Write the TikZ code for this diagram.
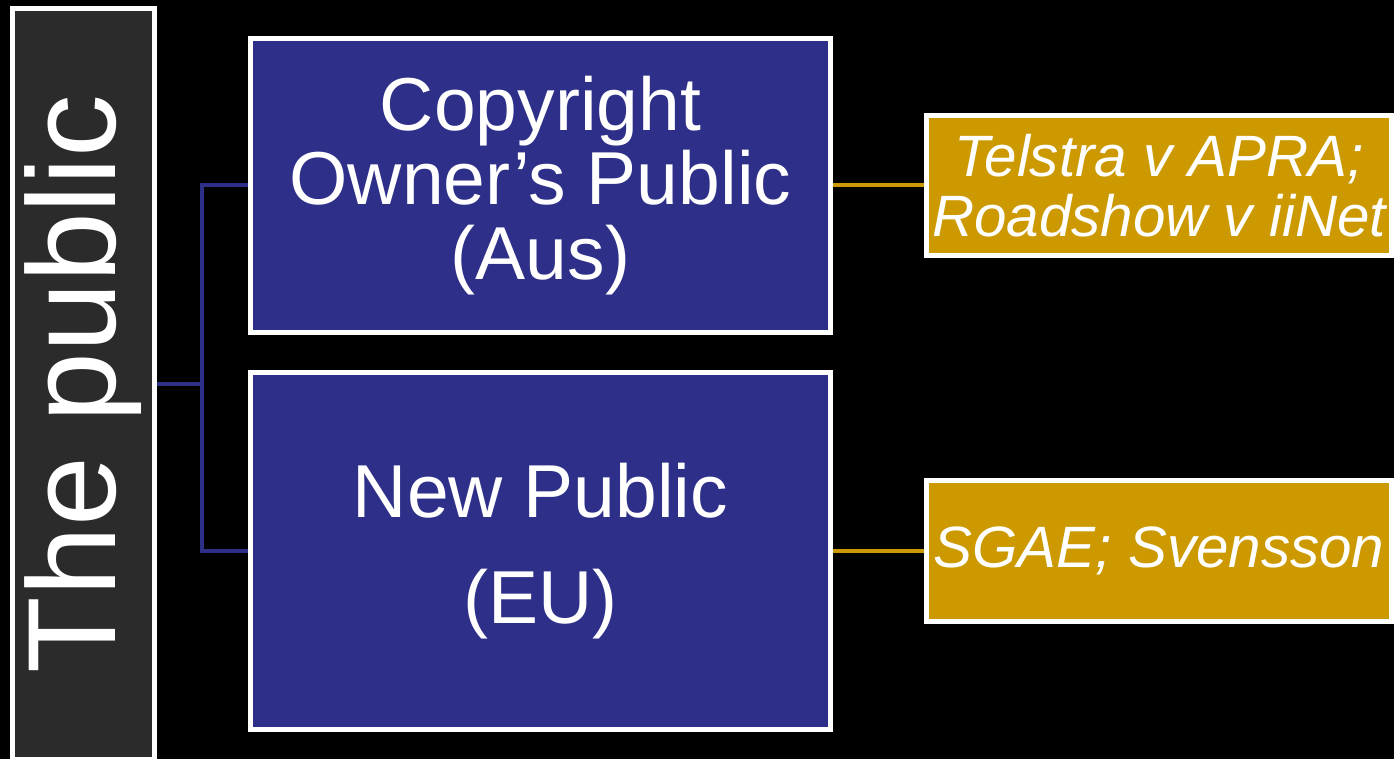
\documentclass[tikz,border=0pt]{standalone}
\usepackage{fontspec}
\setmainfont{Liberation Sans}
\usepackage{tikz}

\definecolor{pubgrey}{HTML}{2B2B2B}
\definecolor{lawblue}{HTML}{2E2F89}
\definecolor{casegold}{HTML}{CC9900}

\begin{document}
\begin{tikzpicture}[x=0.02cm, y=-0.02cm,
    box/.style   = {draw=white, line width=0.1cm, inner sep=0pt, text=white, align=center},
    blue/.style  = {box, fill=lawblue, minimum width=11.6cm,
                    font=\fontsize{42.7}{42.5}\selectfont},
    gold/.style  = {box, fill=casegold, minimum width=9.3cm,
                    font=\fontsize{33.2}{34.5}\selectfont\itshape},
    link/.style  = {line width=0.08cm}
  ]
  \fill[black] (0,0) rectangle (1394,759);
  \useasboundingbox (0,0) rectangle (1394,759);

  \node (pub) [box, fill=pubgrey, rotate=90, minimum width=15.03cm, minimum height=2.84cm,
               font=\fontsize{71.4}{75}\selectfont] at (83.5,384) {The public};

  \node (own)  [blue, minimum height=5.88cm] at (540.5,185.5) {Copyright\\Owner’s Public\\(Aus)};
  \node (new)  [blue, minimum height=7.14cm] at (540.5,551) {New Public\\[18pt](EU)};

  \node (tel)  [gold, minimum height=2.8cm]  at (1159,185.5) {Telstra v APRA;\\Roadshow v iiNet};
  \node (sgae) [gold, minimum height=2.82cm] at (1159,551) {SGAE; Svensson};

  \path[link, draw=lawblue]
    (pub.south) -- ++(45,0) |- (own.west)
    (pub.south) -- ++(45,0) |- (new.west);
  \path[link, draw=casegold]
    (own.east) edge (tel.west)
    (new.east) edge (sgae.west);
\end{tikzpicture}
\end{document}
